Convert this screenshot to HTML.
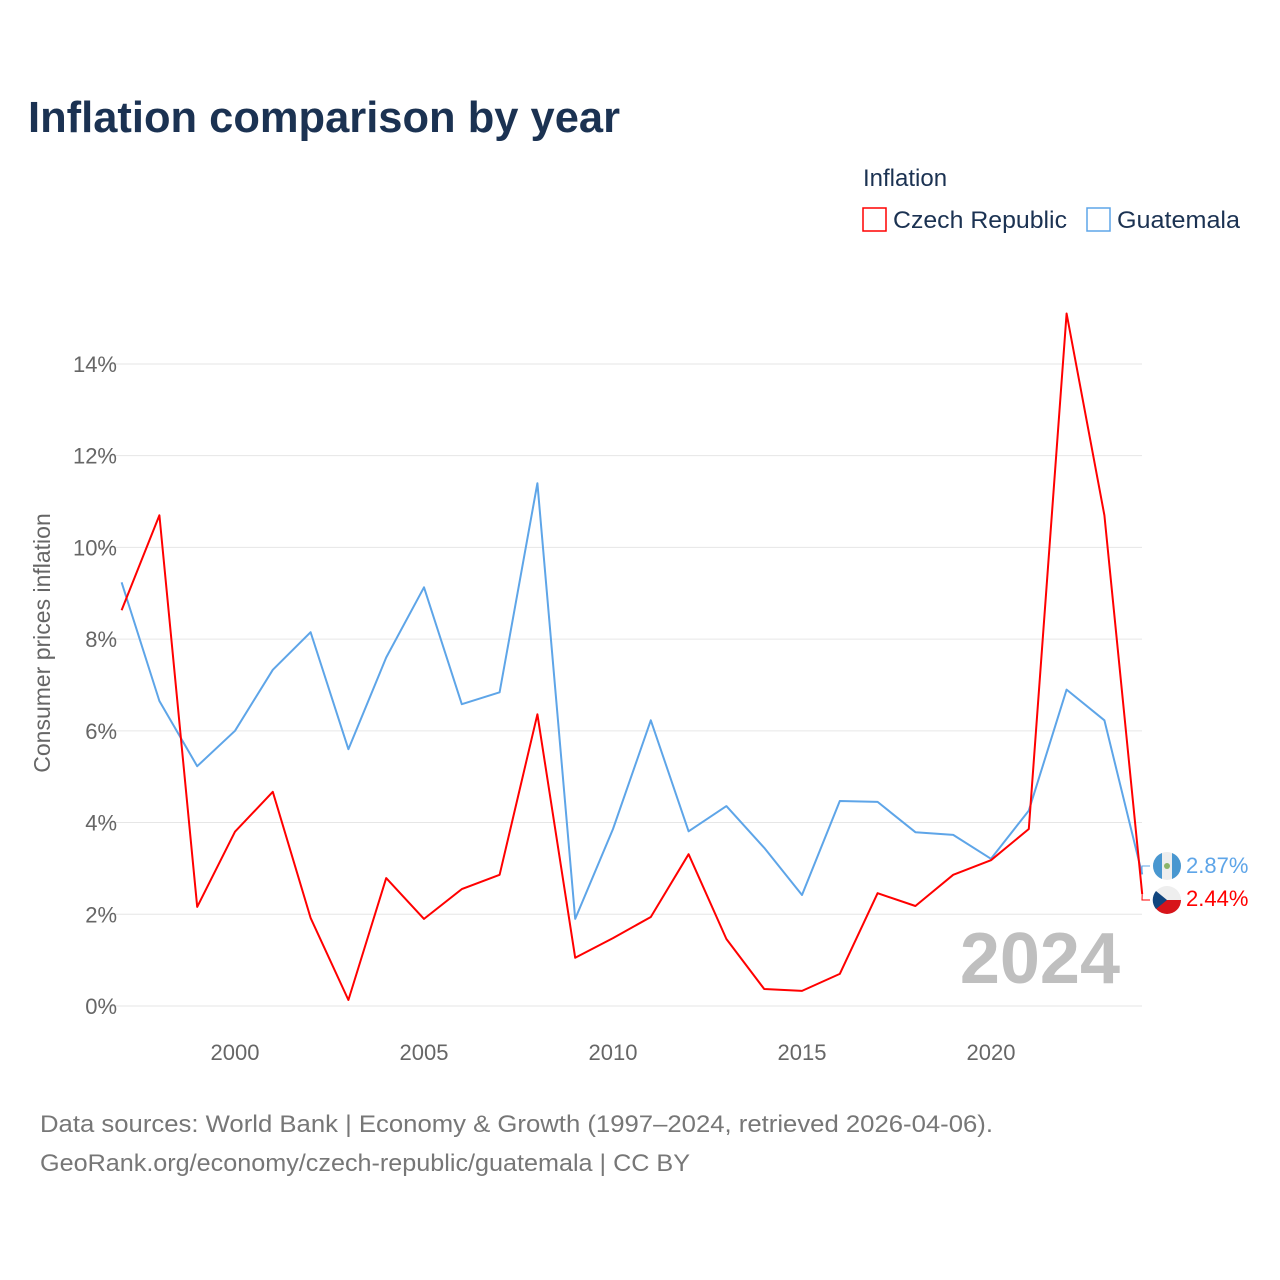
<!DOCTYPE html>
<html><head><meta charset="utf-8"><style>
body{margin:0;background:#fff;font-family:"Liberation Sans",sans-serif;}
#wrap{position:relative;width:1280px;height:1280px;overflow:hidden;}
</style></head><body>
<div id="wrap">
<svg id="chart" width="1280" height="1280"></svg>
</div>
<script>
const years=[1997,1998,1999,2000,2001,2002,2003,2004,2005,2006,2007,2008,2009,2010,2011,2012,2013,2014,2015,2016,2017,2018,2019,2020,2021,2022,2023,2024];
const czech=[8.63,10.7,2.16,3.8,4.67,1.92,0.13,2.79,1.9,2.55,2.86,6.36,1.05,1.48,1.94,3.31,1.46,0.37,0.33,0.70,2.46,2.18,2.86,3.18,3.86,15.1,10.7,2.44];
const guatemala=[9.24,6.65,5.23,6.0,7.33,8.15,5.6,7.6,9.13,6.58,6.84,11.4,1.9,3.86,6.23,3.81,4.36,3.45,2.42,4.47,4.45,3.79,3.73,3.21,4.26,6.9,6.23,2.87];
const yTicks=[0,2,4,6,8,10,12,14];
const xTicks=[2000,2005,2010,2015,2020];
const NS="http://www.w3.org/2000/svg";
const svg=document.getElementById('chart');
const X=y=>121.6+(y-1997)*37.8;
const Y=v=>1006-v*45.86;
function mk(t,a,txt){const e=document.createElementNS(NS,t);for(const k in a)e.setAttribute(k,a[k]);if(txt!==undefined)e.textContent=txt;svg.appendChild(e);return e;}
let e;
e=mk('text',{x:28,y:132,'font-size':44,'font-weight':'bold',fill:'#1b3252',textLength:592,lengthAdjust:'spacingAndGlyphs'},'Inflation comparison by year');


yTicks.forEach(t=>{
 e=mk('line',{x1:100,x2:1142,y1:Y(t),y2:Y(t),stroke:'#e6e6e6','stroke-width':1});
 
 
 e=mk('text',{x:117,y:Y(t)+8,'font-size':22,fill:'#666','text-anchor':'end'},t+'%');
 
 
});
xTicks.forEach(t=>{
 e=mk('text',{x:X(t),y:1060,'font-size':22,fill:'#666','text-anchor':'middle'},String(t));
 
 
});
e=mk('text',{x:0,y:0,'font-size':23,fill:'#666','text-anchor':'middle',transform:'translate(50,643) rotate(-90)'},'Consumer prices inflation');


e=mk('text',{x:1120,y:983,'font-size':72,'font-weight':'bold',fill:'#bfbfbf','text-anchor':'end'},'2024');


function line(data,color,name){
 const d=data.map((v,i)=>(i?'L':'M')+X(years[i]).toFixed(1)+','+Y(v).toFixed(1)).join(' ');
 const p=mk('path',{d:d,fill:'none',stroke:color,'stroke-width':2,'stroke-linejoin':'round'});
 
 
}
line(guatemala,'#5ea5e8','guatemala-line');
line(czech,'#ff0000','czech-republic-line');
const gl=guatemala[guatemala.length-1], cl=czech[czech.length-1];
const defs=mk('defs',{});
const cp=document.createElementNS(NS,'clipPath');cp.setAttribute('id','gclip');
const cc=document.createElementNS(NS,'circle');cc.setAttribute('cx',1167);cc.setAttribute('cy',866);cc.setAttribute('r',14);cp.appendChild(cc);defs.appendChild(cp);
e=mk('circle',{cx:1167,cy:866,r:14,fill:'#eee'});


mk('rect',{x:1153,y:852,width:9,height:28,fill:'#4997d0','clip-path':'url(#gclip)'});
mk('rect',{x:1172,y:852,width:9,height:28,fill:'#4997d0','clip-path':'url(#gclip)'});
mk('circle',{cx:1167,cy:866,r:3,fill:'#8bb56a'});
e=mk('circle',{cx:1167,cy:900,r:14,fill:'#eee'});


mk('path',{d:'M1153,900 L1181,900 A14,14 0 0 1 1153,900 Z',fill:'#d7141a'});
mk('path',{d:'M1156,891 L1167,900 L1156,909 A14,14 0 0 1 1156,891 Z',fill:'#11457e'});
mk('path',{d:`M${X(2024)},${Y(gl)} L1142,866 L1150,866`,stroke:'#5ea5e8',fill:'none'});
mk('path',{d:`M${X(2024)},${Y(cl)} L1142,900 L1150,900`,stroke:'#ff0000',fill:'none'});
e=mk('text',{x:1186,y:873,'font-size':22,fill:'#5ea5e8'},gl.toFixed(2)+'%');


e=mk('text',{x:1186,y:906,'font-size':22,fill:'#ff0000'},cl.toFixed(2)+'%');


e=mk('text',{x:863,y:186,'font-size':24,fill:'#1b3252'},'Inflation');


e=mk('rect',{x:863,y:208,width:23,height:23,fill:'none',stroke:'#ff0000','stroke-width':1.5});


e=mk('text',{x:893,y:228,'font-size':24,fill:'#1b3252',textLength:174,lengthAdjust:'spacingAndGlyphs'},'Czech Republic');


e=mk('rect',{x:1087,y:208,width:23,height:23,fill:'none',stroke:'#5ea5e8','stroke-width':1.5});


e=mk('text',{x:1117,y:228,'font-size':24,fill:'#1b3252',textLength:123,lengthAdjust:'spacingAndGlyphs'},'Guatemala');


e=mk('text',{x:40,y:1132,'font-size':24,fill:'#777',textLength:953,lengthAdjust:'spacingAndGlyphs'},'Data sources: World Bank | Economy & Growth (1997–2024, retrieved 2026-04-06).');


e=mk('text',{x:40,y:1171,'font-size':24,fill:'#777',textLength:650,lengthAdjust:'spacingAndGlyphs'},'GeoRank.org/economy/czech-republic/guatemala | CC BY');


</script>
</body></html>
